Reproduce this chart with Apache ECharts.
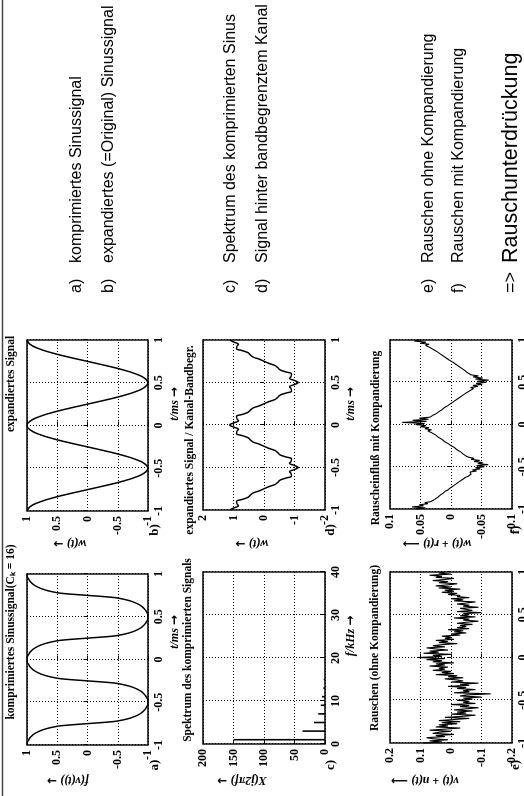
<!DOCTYPE html>
<html>
<head>
<meta charset="utf-8">
<script src="https://cdn.jsdelivr.net/npm/echarts@6/dist/echarts.min.js"></script>
<style>
html, body { margin: 0; padding: 0; background: #fff; overflow: hidden; }
/* the scanned slide is landscape and turned a quarter turn to the left */
#slide {
  position: absolute; left: 0; top: 0;
  width: 796px; height: 524px;
  transform-origin: 0 0;
  transform: translate(0, 796px) rotate(-90deg);
}
</style>
</head>
<body>
<div id="slide"></div>
<script>
// time samples start at -1 ms
const tStart = -1;

// a) komprimiertes Sinussignal, every 0.025 ms
const stepA = 0.025;
const compressed = [1, 1, 0.98, 0.96, 0.93, 0.89, 0.83, 0.75, 0.63, 0.44, 0, -0.44, -0.63, -0.75, -0.83, -0.89, -0.93, -0.96, -0.98, -1,
  -1,
  -1, -0.98, -0.96, -0.93, -0.89, -0.83, -0.75, -0.63, -0.44, 0, 0.44, 0.63, 0.75, 0.83, 0.89, 0.93, 0.96, 0.98, 1,
  1,
  1, 0.98, 0.96, 0.93, 0.89, 0.83, 0.75, 0.63, 0.44, 0, -0.44, -0.63, -0.75, -0.83, -0.89, -0.93, -0.96, -0.98, -1,
  -1,
  -1, -0.98, -0.96, -0.93, -0.89, -0.83, -0.75, -0.63, -0.44, 0, 0.44, 0.63, 0.75, 0.83, 0.89, 0.93, 0.96, 0.98, 1,
  1];

// b) expandiertes Signal, every 0.05 ms
const stepB = 0.05;
const expanded = [1, 0.95, 0.81, 0.59, 0.31, 0, -0.31, -0.59, -0.81, -0.95, -1, -0.95, -0.81, -0.59, -0.31, 0, 0.31, 0.59, 0.81, 0.95,
  1, 0.95, 0.81, 0.59, 0.31, 0, -0.31, -0.59, -0.81, -0.95, -1, -0.95, -0.81, -0.59, -0.31, 0, 0.31, 0.59, 0.81, 0.95, 1];

// c) Spektrum: frequency (kHz) and magnitude
const specFreq = [1, 3, 5, 7, 9, 11, 13, 15];
const specMag = [150, 37, 18, 11, 7, 5, 3, 2];

// d) expandiertes Signal hinter Kanal-Bandbegrenzung, every 0.025 ms
const stepD = 0.025;
const channelOut = [1.12, 0.99, 0.84, 0.89, 0.90, 0.71, 0.52, 0.45, 0.36, 0.16, 0, -0.16, -0.36, -0.45, -0.52, -0.71, -0.90, -0.89, -0.84, -0.99,
  -1.12, -0.99, -0.84, -0.89, -0.90, -0.71, -0.52, -0.45, -0.36, -0.16, 0, 0.16, 0.36, 0.45, 0.52, 0.71, 0.90, 0.89, 0.84, 0.99,
  1.12, 0.99, 0.84, 0.89, 0.90, 0.71, 0.52, 0.45, 0.36, 0.16, 0, -0.16, -0.36, -0.45, -0.52, -0.71, -0.90, -0.89, -0.84, -0.99,
  -1.12, -0.99, -0.84, -0.89, -0.90, -0.71, -0.52, -0.45, -0.36, -0.16, 0, 0.16, 0.36, 0.45, 0.52, 0.71, 0.90, 0.89, 0.84, 0.99,
  1.12];

// e) und f) Rauschen, every 0.0125 ms
const stepN = 0.0125;
const noiseNoComp = [
  0.09, 0.03, 0.07, 0.01, 0.06, 0.08, 0.02, 0.05, -0.01, 0.06,
  0.04, 0.00, 0.07, 0.02, -0.03, 0.05, 0.01, 0.04, -0.02, 0.03,
  -0.03, 0.04, -0.01, -0.06, 0.02, -0.04, -0.08, 0.00, -0.05, -0.02,
  -0.07, -0.01, -0.05, -0.09, -0.03, -0.06, 0.00, -0.08, -0.04, -0.06,
  -0.02, -0.07, -0.04, -0.10, -0.03, -0.05, -0.13, -0.01, -0.06, -0.04,
  -0.08, -0.02, -0.05, 0.01, -0.06, -0.03, -0.09, 0.00, -0.04, -0.02,
  0.02, -0.04, 0.01, -0.02, 0.05, -0.01, 0.03, 0.00, 0.06, 0.02,
  0.04, 0.01, 0.07, 0.02, 0.05, -0.01, 0.06, 0.03, 0.08, 0.02,
  0.11, 0.03, 0.06, 0.00, 0.09, 0.04, 0.07, 0.01, 0.05, 0.08,
  0.02, 0.06, 0.03, -0.02, 0.04, 0.01, 0.05, -0.01, 0.02, 0.00,
  0.03, -0.03, 0.00, -0.05, -0.01, -0.04, 0.01, -0.06, -0.02, -0.05,
  -0.03, -0.07, -0.02, -0.05, -0.09, -0.04, -0.06, -0.01, -0.08, -0.03,
  -0.06, -0.04, -0.10, -0.02, -0.07, -0.05, -0.03, -0.09, -0.04, -0.06,
  -0.02, -0.05, -0.08, -0.01, -0.04, 0.00, -0.06, -0.02, -0.03, 0.01,
  -0.02, 0.03, -0.01, 0.02, -0.03, 0.04, 0.00, 0.05, 0.01, -0.02,
  0.04, 0.01, 0.06, 0.02, -0.01, 0.05, 0.03, 0.07, 0.00, 0.04, 0.02];
const noiseComp = [
  0.058, 0.042, 0.064, 0.045, 0.052, 0.038, 0.043, 0.033, 0.031, 0.027,
  0.026, 0.022, 0.021, 0.018, 0.015, 0.013, 0.010, 0.009, 0.005, 0.004,
  0.001, -0.002, -0.004, -0.007, -0.009, -0.012, -0.014, -0.017, -0.019, -0.022,
  -0.024, -0.028, -0.029, -0.033, -0.036, -0.031, -0.042, -0.035, -0.048, -0.040,
  -0.055, -0.042, -0.061, -0.044, -0.052, -0.038, -0.047, -0.033, -0.038, -0.029,
  -0.025, -0.023, -0.020, -0.018, -0.016, -0.013, -0.010, -0.008, -0.006, -0.003,
  0.000, 0.003, 0.005, 0.008, 0.011, 0.013, 0.015, 0.018, 0.021, 0.023,
  0.025, 0.028, 0.031, 0.033, 0.038, 0.032, 0.043, 0.036, 0.050, 0.041,
  0.058, 0.043, 0.080, 0.040, 0.063, 0.037, 0.052, 0.034, 0.031, 0.029,
  0.025, 0.022, 0.020, 0.018, 0.015, 0.013, 0.011, 0.008, 0.005, 0.003,
  0.000, -0.003, -0.005, -0.008, -0.010, -0.013, -0.015, -0.018, -0.020, -0.023,
  -0.025, -0.028, -0.031, -0.034, -0.037, -0.032, -0.044, -0.036, -0.051, -0.041,
  -0.058, -0.043, -0.062, -0.040, -0.052, -0.036, -0.045, -0.033, -0.030, -0.027,
  -0.025, -0.023, -0.020, -0.018, -0.015, -0.013, -0.010, -0.008, -0.005, -0.003,
  0.000, 0.003, 0.005, 0.008, 0.010, 0.013, 0.015, 0.018, 0.020, 0.023,
  0.025, 0.029, 0.031, 0.035, 0.032, 0.042, 0.036, 0.050, 0.041, 0.060, 0.052];

// texts
const plotTitles = ["komprimiertes Sinussignal(C\u2096 = 16)", "expandiertes Signal",
  "Spektrum des komprimierten Signals", "expandiertes Signal / Kanal-Bandbegr.",
  "Rauschen (ohne Kompandierung)", "Rauscheinfluß mit Kompandierung"];
const yNames = ["f(v(t))", "w(t)", "X(j2\u03c0f)", "w(t)", "v(t) + n(t)", "w(t) + r(t)"];
const yArrows = ["\u2192", "\u2192", "\u2192", "\u2192", "\u27f6", "\u27f6"];
const xNames = ["t/ms", "t/ms", "f/kHz", "t/ms"];
const letters = ["a)", "b)", "c)", "d)", "e)", "f)"];
const bulletText = ["komprimiertes Sinussignal", "expandiertes (=Original) Sinussignal",
  "Spektrum des komprimierten Sinus", "Signal hinter bandbegrenztem Kanal",
  "Rauschen ohne Kompandierung", "Rauschen mit Kompandierung"];

const pairs = (vals, step) => vals.map((v, i) => [+(tStart + i * step).toFixed(4), v]);

const chart = echarts.init(document.getElementById("slide"), null, { renderer: "canvas" });

const lab = { color: "#000", fontFamily: "Liberation Serif", fontWeight: "bold", fontSize: 12 };
const serifBI = 'italic bold 12px "Liberation Serif"';
const arrowFont = 'bold 12px "DejaVu Sans"';
const sans = '16px "Liberation Sans"';
const sansBig = '21.5px "Liberation Sans"';

// plot boxes (slide coordinates)
const boxes = [
  { left: 51, top: 27, width: 171, height: 121 },
  { left: 285, top: 27, width: 171, height: 121 },
  { left: 52, top: 203, width: 172, height: 122 },
  { left: 286, top: 203, width: 170, height: 122 },
  { left: 53, top: 390, width: 171, height: 122 },
  { left: 287, top: 390, width: 169, height: 122 },
];

const ranges = [
  { x: [-1, 1, 0.5], y: [-1, 1, 0.5] },
  { x: [-1, 1, 0.5], y: [-1, 1, 0.5] },
  { x: [0, 40, 10], y: [0, 200, 50] },
  { x: [-1, 1, 0.5], y: [-2, 2, 1] },
  { x: [-1, 1, 0.5], y: [-0.2, 0.2, 0.1] },
  { x: [-1, 1, 0.5], y: [-0.1, 0.1, 0.05] },
];

const dotted = { show: true, lineStyle: { color: "#000", width: 1, type: [1, 2] } };

const grid = boxes.map((b) => Object.assign({
  show: true, borderColor: "#000", borderWidth: 1.4, backgroundColor: "transparent",
  containLabel: false, outerBoundsMode: "none",
}, b));

const xAxis = ranges.map((r, i) => ({
  type: "value", gridIndex: i, min: r.x[0], max: r.x[1], interval: r.x[2],
  axisLine: { show: false },
  axisTick: { show: true, inside: true, length: 4, lineStyle: { color: "#000" } },
  axisLabel: Object.assign({ margin: 5 }, lab),
  splitLine: dotted,
}));

const yAxis = ranges.map((r, i) => ({
  type: "value", gridIndex: i, min: r.y[0], max: r.y[1], interval: r.y[2],
  axisLine: { show: false },
  axisTick: { show: true, inside: true, length: 4, lineStyle: { color: "#000" } },
  axisLabel: Object.assign({ margin: 5 }, lab),
  splitLine: dotted,
}));

const lineSeries = (idx, data, width, smooth) => ({
  type: "line", xAxisIndex: idx, yAxisIndex: idx, data: data,
  showSymbol: false, smooth: smooth, animation: false,
  lineStyle: { color: "#000", width: width },
});

const series = [
  lineSeries(0, pairs(compressed, stepA), 1.5, 0.3),
  lineSeries(1, pairs(expanded, stepB), 1.5, true),
  {
    type: "bar", xAxisIndex: 2, yAxisIndex: 2, barWidth: 1.6, animation: false,
    itemStyle: { color: "#000" },
    data: specFreq.map((f, i) => [f, specMag[i]]),
  },
  lineSeries(3, pairs(channelOut, stepD), 1.5, 0.5),
  lineSeries(4, pairs(noiseNoComp, stepN), 1.1, false),
  lineSeries(5, pairs(noiseComp, stepN), 1.1, false),
];

// title centres along the slide
const titlePos = [[164, 12], [412, 12], [146, 189], [356, 191], [148, 376], [358, 377]];
const title = plotTitles.map((t, i) => ({
  text: t, left: titlePos[i][0], top: titlePos[i][1] - 7, textAlign: "center",
  padding: 0,
  textStyle: { color: "#000", fontFamily: "Liberation Serif", fontWeight: "bold", fontSize: 11.5 },
}));

const txt = (x, y, text, font, align, rot) => ({
  type: "text", x: x, y: y, silent: true, rotation: rot || 0,
  style: { text: text, font: font, fill: "#000", align: align || "center", verticalAlign: "middle" },
});

// axis names with a heavier arrow glyph
const named = (x, y, name, arrow, rot) => ({
  type: "text", x: x, y: y, silent: true, rotation: rot || 0,
  style: {
    text: name + " {arr|" + arrow + "}", font: serifBI, fill: "#000",
    align: "center", verticalAlign: "middle",
    rich: { arr: { font: arrowFont, fill: "#000" } },
  },
});

const yNamePos = [[16, 68], [253, 70], [16, 242], [253, 252], [16, 425], [253, 437]];
const xNamePos = [[164, 175], [392, 175], [160, 351], [392, 351]];
const letterPos = [[31, 155], [266, 155], [31, 331], [266, 331], [31, 516], [266, 516]];
const bulletV = [77, 109, 231, 263, 429, 459];

const graphic = [
  { type: "line", shape: { x1: 0, y1: 2.5, x2: 796, y2: 2.5 }, style: { stroke: "#444", lineWidth: 1.5 }, silent: true },
];
yNames.forEach((n, i) => graphic.push(named(yNamePos[i][0], yNamePos[i][1], n, yArrows[i], Math.PI / 2)));
xNames.forEach((n, i) => graphic.push(named(xNamePos[i][0], xNamePos[i][1], n, "\u2192")));
letters.forEach((n, i) => graphic.push(txt(letterPos[i][0], letterPos[i][1], n, 'bold 13px "Liberation Serif"')));
bulletText.forEach((n, i) => {
  graphic.push(txt(503, bulletV[i], letters[i], sans, "left"));
  graphic.push(txt(533, bulletV[i], n, sans, "left"));
});
graphic.push(txt(503, 511, "=>", '18px "Liberation Sans"', "left"));
graphic.push(txt(533, 511, "Rauschunterdrückung", sansBig, "left"));

chart.setOption({
  animation: false,
  backgroundColor: "#fff",
  title: title,
  grid: grid,
  xAxis: xAxis,
  yAxis: yAxis,
  series: series,
  graphic: graphic,
});
</script>
</body>
</html>
